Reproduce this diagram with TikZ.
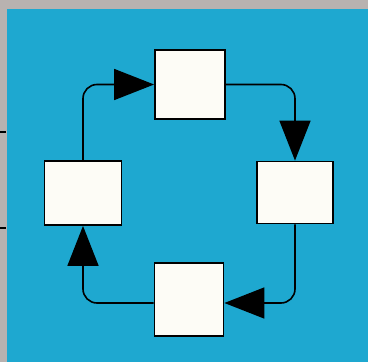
\documentclass[tikz,border=0pt]{standalone}
\usetikzlibrary{arrows.meta,positioning}
\definecolor{plate}{RGB}{30,168,208}
\definecolor{edge}{RGB}{184,178,176}
\definecolor{paper}{RGB}{253,252,246}
\begin{document}
\begin{tikzpicture}[
    x=1pt, y=-1pt,
    >={Triangle[length=40pt, width=31pt]},
    box/.style={draw=black, fill=paper, line width=1.8pt, rectangle, inner sep=0pt},
    flow/.style={->, line width=1.6pt, rounded corners=14pt}
]

    % background
    \useasboundingbox (0,0) rectangle (368,362);
    \fill [edge] (0,0) rectangle (368,362);
    \fill [plate] (7,9) rectangle (368,362);
    \draw [line width=1.5pt] (0,132) -- (6,132);
    \draw [line width=1.5pt] (0,228) -- (6,228);

    % the four boxes
    \node [box, minimum width=70pt, minimum height=69pt] (boxN) at (190,84.5) {};
    \node [box, minimum width=76pt, minimum height=62pt] (boxE) at (295,192.5) {};
    \node [box, minimum width=69pt, minimum height=73pt] (boxS) at (189,299.5) {};
    \node [box, minimum width=77pt, minimum height=64pt] (boxW) at (83,193) {};

    % cycle
    \draw [flow] (boxW.north) |- (boxN.west);
    \draw [flow] (boxN.east) -| (boxE.north);
    \draw [flow] (boxE.south) |- ([yshift=-3.5pt]boxS.east);
    \draw [flow] ([yshift=-3.5pt]boxS.west) -| (boxW.south);

\end{tikzpicture}
\end{document}
